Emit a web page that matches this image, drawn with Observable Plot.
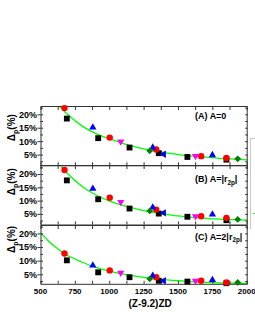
<!DOCTYPE html>
<html><head><meta charset="utf-8">
<script src="https://cdn.jsdelivr.net/npm/d3@7"></script>
<script src="https://cdn.jsdelivr.net/npm/@observablehq/plot@0.6"></script>
<style>
html,body{margin:0;padding:0;background:#fff;}
#chart{position:relative;width:255px;height:330px;overflow:hidden;font-family:"Liberation Sans",Arial,sans-serif;}
.panel{position:absolute;left:0;}
#edgebox{position:absolute;left:250px;top:138px;width:10px;height:90px;border-left:1px solid #c8c8c8;border-top:1px solid #c8c8c8;}
#edgedash{position:absolute;left:253px;top:213px;width:4px;height:1px;background:#33ee33;}
</style></head><body><div id="chart"><div id="edgebox"></div><div id="edgedash"></div></div>
<script>
// ---------- data ----------
const xTickValues = [500, 750, 1000, 1250, 1500, 1750, 2000];
const xMinorTicks = [500, 625, 750, 875, 1000, 1125, 1250, 1375, 1500, 1625, 1750, 1875, 2000];
const yTickValues = [5, 10, 15, 20];
const yMinorTicks = [2.5, 5, 7.5, 10, 12.5, 15, 17.5, 20, 22.5];
const panelLabels = ["(A) A=0", "(B) A=|r_{2p}|", "(C) A=2|r_{2p}|"];
const yTitle = "Δ_{p}(%)";
const xTitle = "(Z-9.2)ZD";

// black squares
const squareX = [688, 916, 1144, 1357, 1565, 1849];
const squareA = [18.6, 11.3, 7.8, 5.7, 4.3, 3.3];
const squareB = [17.8, 10.7, 7.2, 5.3, 4.1, 2.8];
const squareC = [10.3, 5.9, 4.1, 2.8, 2.5, 1.9];
// red circles
const circleX = [671, 1000, 1338, 1665, 1849];
const circleA = [22.5, 11.5, 7.1, 4.6, 3.9];
const circleB = [21.7, 11.3, 6.8, 4.3, 3.7];
const circleC = [12.8, 6.6, 4.1, 2.8, 2.2];
// blue up triangles
const upX = [877, 1313, 1747];
const upA = [15.3, 7.8, 5.0];
const upB = [14.7, 7.6, 5.0];
const upC = [8.4, 4.7, 3.1];
// magenta down triangles
const downX = [1080, 1624];
const downA = [10.0, 4.6];
const downB = [9.6, 4.3];
const downC = [5.7, 2.8];
// green diamonds
const diamondX = [1291, 1931];
const diamondA = [6.6, 3.6];
const diamondB = [6.3, 3.1];
const diamondC = [3.5, 2.2];
// blue left triangles
const leftX = [1393];
const leftA = [5.3];
const leftB = [5.6];
const leftC = [2.8];

// green fitted curves
const curveAX = [636, 700, 800, 900, 1000, 1100, 1200, 1300, 1400, 1500, 1600, 1700, 1800, 1900, 2000];
const curveAY = [23.1, 19.8, 15.8, 13.0, 11.0, 9.3, 7.9, 6.8, 5.9, 5.2, 4.6, 4.2, 3.8, 3.5, 3.2];
const curveBX = [642, 700, 800, 900, 1000, 1100, 1200, 1300, 1400, 1500, 1600, 1700, 1800, 1900, 2000];
const curveBY = [23.4, 20.0, 15.5, 12.3, 10.0, 8.3, 7.0, 5.9, 5.1, 4.4, 3.9, 3.5, 3.2, 3.0, 2.8];
const curveCX = [500, 550, 600, 666, 700, 800, 900, 1000, 1100, 1200, 1300, 1400, 1500, 1600, 1700, 1800, 1900, 2000];
const curveCY = [20.3, 17.6, 15.4, 12.9, 11.9, 9.6, 7.7, 6.3, 5.2, 4.4, 3.7, 3.2, 2.8, 2.5, 2.2, 2.0, 1.9, 1.8];

// ---------- layout ----------
const W = 255, frameLeft = 40.5, frameRight = 246.7;
const panels = [
  {label: panelLabels[0], top: 105.7, bottom: 165, yDomain: [1.0, 23.1], labelDy: 6.3, titleDy: 5,
   sq: squareA, ci: circleA, up: upA, dn: downA, di: diamondA, lt: leftA, cx: curveAX, cy: curveAY},
  {label: panelLabels[1], top: 165, bottom: 224.5, yDomain: [1.0, 23.4], labelDy: 10.5, titleDy: 0,
   sq: squareB, ci: circleB, up: upB, dn: downB, di: diamondB, lt: leftB, cx: curveBX, cy: curveBY},
  {label: panelLabels[2], top: 224.5, bottom: 283.3, yDomain: [1.5, 23.1], labelDy: 8, titleDy: -2,
   sq: squareC, ci: circleC, up: upC, dn: downC, di: diamondC, lt: leftC, cx: curveCX, cy: curveCY, last: true}
];

function tri(angle) {
  return {draw(ctx, size) {
    const a = Math.sqrt(size * 4 / Math.sqrt(3));
    const R = a / Math.sqrt(3);
    for (let i = 0; i < 3; i++) {
      const t = angle + i * 2 * Math.PI / 3;
      const px = R * Math.cos(t), py = R * Math.sin(t);
      if (i === 0) ctx.moveTo(px, py); else ctx.lineTo(px, py);
    }
    ctx.closePath();
  }};
}
const triUp = tri(-Math.PI / 2), triDown = tri(Math.PI / 2), triLeft = tri(Math.PI);
const rows = (xs, ys) => xs.map((x, i) => ({x, y: ys[i]}));

function subscriptify(svg) {
  svg.querySelectorAll("text").forEach(t => {
    const s = t.textContent;
    if (!s.includes("_{")) return;
    t.textContent = "";
    const re = /_\{([^}]*)\}/g;
    let last = 0, m, pending = 0;
    const add = (str, sub) => {
      const ts = document.createElementNS("http://www.w3.org/2000/svg", "tspan");
      ts.textContent = str;
      let dy = pending;
      if (sub) { ts.setAttribute("font-size", "70%"); dy += 2.6; pending = -2.6; } else pending = 0;
      if (dy) ts.setAttribute("dy", dy);
      t.appendChild(ts);
    };
    while ((m = re.exec(s))) {
      if (m.index > last) add(s.slice(last, m.index), false);
      add(m[1], true);
      last = re.lastIndex;
    }
    if (last < s.length) add(s.slice(last), false);
  });
}

const chart = document.getElementById("chart");
const axisColor = "#333";
panels.forEach(p => {
  const mt = 12, mb = p.last ? 40 : 12;
  const ph = p.bottom - p.top;
  const marks = [
    Plot.line(rows(p.cx, p.cy), {x: "x", y: "y", stroke: "#00ff00", strokeWidth: 1.3, curve: "natural"}),
    Plot.frame({stroke: axisColor}),
    Plot.axisY({anchor: "left", ticks: yTickValues, tickFormat: d => d + "%", tickSize: 3, tickPadding: 1, label: null, stroke: axisColor, fontSize: 9}),
    Plot.axisY({anchor: "left", ticks: yMinorTicks, tickSize: 2.5, insetLeft: 2.5, fill: "none", label: null, stroke: axisColor}),
    Plot.axisY({anchor: "right", ticks: yMinorTicks, tickSize: 2.5, insetRight: 2.5, fill: "none", label: null, stroke: axisColor}),
    Plot.axisX({anchor: "top", ticks: xMinorTicks, tickSize: 3, insetTop: 3, fill: "none", label: null, stroke: axisColor}),
    Plot.axisX({anchor: "bottom", ticks: xMinorTicks, tickSize: 3, insetBottom: 3, fill: "none", label: null, stroke: axisColor}),
    Plot.dot(rows(squareX, p.sq), {x: "x", y: "y", symbol: "square", r: 3.3, fill: "#000"}),
    Plot.dot(rows(circleX, p.ci), {x: "x", y: "y", symbol: "circle", r: 3.2, fill: "#ff0000"}),
    Plot.dot(rows(upX, p.up), {x: "x", y: "y", symbol: triUp, r: 2.7, fill: "#0000ff"}),
    Plot.dot(rows(downX, p.dn), {x: "x", y: "y", symbol: triDown, r: 2.7, fill: "#ff00ff"}),
    Plot.dot(rows(diamondX, p.di), {x: "x", y: "y", symbol: "diamond2", r: 3.1, fill: "#008000"}),
    Plot.dot(rows(leftX, p.lt), {x: "x", y: "y", symbol: triLeft, r: 2.7, fill: "#0000ee"}),
    Plot.text([p.label], {frameAnchor: "top-left", dx: 154, dy: p.labelDy, textAnchor: "start", fontSize: 9, fill: "#000"}),
    Plot.text([yTitle], {frameAnchor: "left", dx: -29, dy: p.titleDy, rotate: -90, fontSize: 10, fill: "#000"})
  ];
  if (p.last) {
    marks.push(Plot.axisX({anchor: "bottom", ticks: xTickValues, tickSize: 0, tickPadding: 4, label: null, fontSize: 8, dx: -0.5, tickFormat: d => String(d)}));
    marks.push(Plot.text([xTitle], {frameAnchor: "bottom", dx: 6, dy: 23, fontSize: 10, fill: "#000"}));
  }
  const svg = Plot.plot({
    width: W,
    height: ph + mt + mb,
    marginLeft: frameLeft, marginRight: W - frameRight, marginTop: mt, marginBottom: mb,
    x: {domain: [500, 2000]},
    y: {domain: p.yDomain},
    style: {background: "transparent", overflow: "visible", fontFamily: "'Liberation Sans', Arial, sans-serif", fontWeight: "bold", fontSize: "9px", color: "#000"},
    marks
  });
  subscriptify(svg);
  svg.classList.add("panel");
  svg.style.position = "absolute";
  svg.style.top = (p.top - mt) + "px";
  svg.style.left = "0px";
  chart.appendChild(svg);
});
</script></body></html>
